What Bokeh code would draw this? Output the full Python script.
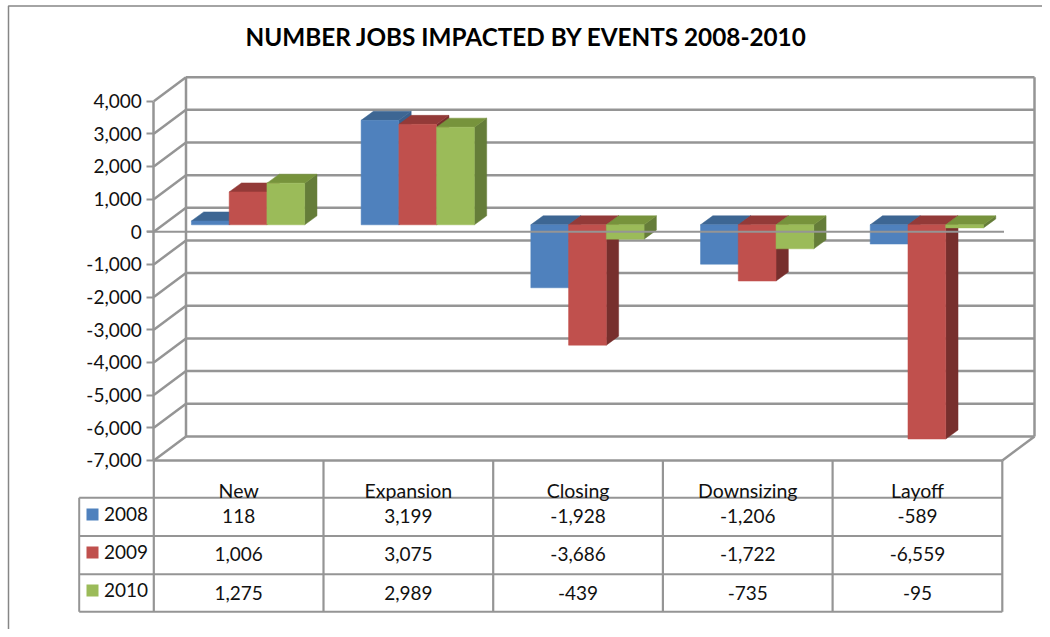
from bokeh.plotting import figure
from bokeh.models import LinearAxis, FixedTicker, NumeralTickFormatter, Range1d
from bokeh.core.properties import value
from bokeh.embed import file_html
from bokeh.resources import INLINE

TITLE = "NUMBER JOBS IMPACTED BY EVENTS 2008-2010"
categories = ["New", "Expansion", "Closing", "Downsizing", "Layoff"]
series_names = ["2008", "2009", "2010"]
values_2008 = [118, 3199, -1928, -1206, -589]
values_2009 = [1006, 3075, -3686, -1722, -6559]
values_2010 = [1275, 2989, -439, -735, -95]
y_ticks = [4000, 3000, 2000, 1000, 0, -1000, -2000, -3000, -4000, -5000, -6000, -7000]

series = [values_2008, values_2009, values_2010]
front_col = ["#4f81bd", "#c0504d", "#9bbb59"]
top_col = ["#3d6693", "#933a38", "#77933c"]
side_col = ["#395f8c", "#772f2d", "#657d39"]
GRID = "#959595"
FONT = value("Lato")

W, H = 1042, 629
PX_LEFT, CAT_PX = 153.3, 169.7          # front plane: x of first category edge, px per category
PX_ZERO, VAL_PX = 231.3, 0.03266        # y px of value 0, px per unit value
x0 = -PX_LEFT / CAT_PX
y1 = PX_ZERO / VAL_PX


def X(px):
    return x0 + px / CAT_PX


def Y(py):
    return y1 - py / VAL_PX


DX, DY = 32.2 / CAT_PX, 24 / VAL_PX     # plot-box depth in data units
BX, BY = 12.3 / CAT_PX, 9 / VAL_PX      # bar depth
BASE_X, BASE_Y = 9.4 / CAT_PX, 7 / VAL_PX  # offset of bar front face inside the box
BAR_W = 37.75 / CAT_PX
VMIN, VMAX = y_ticks[-1], y_ticks[0]
N = len(categories)

p = figure(width=W, height=H, x_range=Range1d(X(0), X(W)),
           y_range=Range1d(Y(H), Y(0)), x_axis_location=None, y_axis_location=None,
           toolbar_location=None, output_backend="svg", min_border=0,
           outline_line_color=None, background_fill_color="white", border_fill_color="white")
p.grid.visible = False

# outer chart-area border
p.line([X(8), X(8), X(W)], [Y(H), Y(5.5), Y(5.5)], line_color="#868686", line_width=1.5)

# walls: back gridlines, left-wall diagonals, floor
p.segment([DX] * len(y_ticks), [t + DY for t in y_ticks], [N + DX] * len(y_ticks), [t + DY for t in y_ticks],
          line_color=GRID, line_width=2.5)
p.segment([0] * len(y_ticks), y_ticks, [DX] * len(y_ticks), [t + DY for t in y_ticks],
          line_color=GRID, line_width=2.5)
p.segment([DX, N + DX, N], [VMIN + DY, VMIN + DY, VMIN], [DX, N + DX, N + DX], [VMAX + DY, VMAX + DY, VMIN + DY],
          line_color=GRID, line_width=2.5)
p.segment([0], [VMIN], [N], [VMIN], line_color=GRID, line_width=2.5)

# 3-D bars
for c in range(N):
    for s, vals in enumerate(series):
        v = vals[c]
        xl = c + 0.5 + BASE_X + (s - 1.5) * BAR_W
        xr = xl + BAR_W
        y_base = BASE_Y
        y_val = v + BASE_Y
        y_hi = max(y_base, y_val)
        y_lo = min(y_base, y_val)
        # side
        p.patch([xr, xr + BX, xr + BX, xr], [y_lo, y_lo + BY, y_hi + BY, y_hi],
                fill_color=side_col[s], line_color=side_col[s], line_width=0.5)
        # top
        p.patch([xl, xr, xr + BX, xl + BX], [y_hi, y_hi, y_hi + BY, y_hi + BY],
                fill_color=top_col[s], line_color=top_col[s], line_width=0.5)
        # front
        p.quad(left=[xl], right=[xr], bottom=[y_lo], top=[y_hi],
               fill_color=front_col[s], line_color=front_col[s], line_width=0.5)

# zero line in front of the bars
p.segment([X(146.5)], [0], [N + 0.01], [0], line_color=GRID, line_width=2)

# value axis
axis = LinearAxis(fixed_location=0, bounds=(VMIN, VMAX), ticker=FixedTicker(ticks=y_ticks),
                  formatter=NumeralTickFormatter(format="0,0"))
axis.axis_line_color = GRID
axis.axis_line_width = 2.5
axis.major_tick_line_color = GRID
axis.major_tick_line_width = 2
axis.major_tick_out = 7
axis.major_tick_in = 0
axis.minor_tick_line_color = None
axis.major_label_text_font = "Lato"
axis.major_label_text_font_size = "19px"
axis.major_label_text_color = "#111111"
axis.major_label_standoff = 5
p.add_layout(axis, "left")

# data table
rows = [497.3, 535.6, 573.7, 611.3]
table_left = 78.7
p.segment([X(table_left)] * 4, [Y(r) for r in rows], [N] * 4, [Y(r) for r in rows],
          line_color=GRID, line_width=2)
p.segment(list(range(N + 1)), [VMIN] * (N + 1), list(range(N + 1)), [Y(rows[-1])] * (N + 1),
          line_color=GRID, line_width=2.2)
p.segment([X(table_left)], [Y(rows[0])], [X(table_left)], [Y(rows[-1])], line_color=GRID, line_width=2)

p.text([i + 0.5 for i in range(N)], [Y(489.5)] * N, text=categories, text_font=FONT, text_font_size="19.5px",
       text_color="#111111", text_align="center", text_baseline="middle")
text_y = [515, 553, 592.5]
label_y = [513.3, 551.3, 589.3]
swatch_y = [514, 552, 590]
for s, vals in enumerate(series):
    p.text([i + 0.5 for i in range(N)], [Y(text_y[s])] * N, text=[f"{v:,}" for v in vals], text_font=FONT,
           text_font_size="19px", text_color="#111111", text_align="center", text_baseline="middle")
    p.text([X(103.5)], [Y(label_y[s])], text=[series_names[s]], text_font=FONT, text_font_size="19px",
           text_color="#111111", text_align="left", text_baseline="middle")
    p.quad(left=[X(86)], right=[X(98)], bottom=[Y(swatch_y[s] + 6)], top=[Y(swatch_y[s] - 6)],
           fill_color=front_col[s], line_color=None)

# title
p.text([X(526)], [Y(36)], text=[TITLE], text_font=FONT, text_font_style="bold", text_font_size="24.3px",
       text_color="#000000", text_align="center", text_baseline="middle")

open("out.html", "w").write(file_html(p, INLINE))
